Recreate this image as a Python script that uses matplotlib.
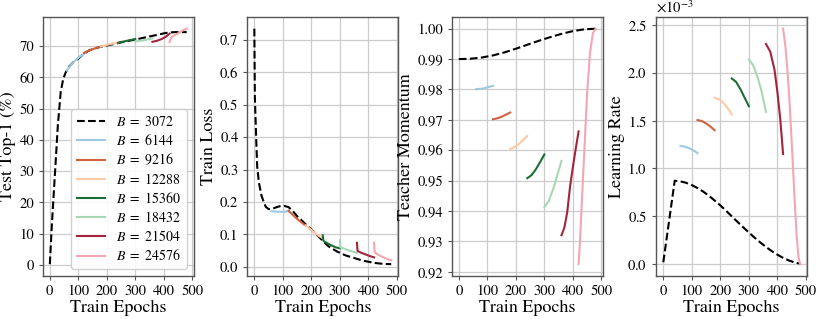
import numpy as np
import matplotlib
matplotlib.use("Agg")
import matplotlib.pyplot as plt
from matplotlib.ticker import ScalarFormatter

plt.rcParams["font.family"] = ["STIXGeneral", "DejaVu Serif"]
plt.rcParams["mathtext.fontset"] = "stix"

# batch sizes and colours
batch_sizes = [3072, 6144, 9216, 12288, 15360, 18432, 21504, 24576]
colors = ["k", "#9ecae1", "#d0623e", "#fdc9a6", "#1b6e35", "#a6d9b3", "#a3253d", "#f4a6b2"]

# ---- Test top-1 (%) ----
acc_epochs = [
    [1, 8, 15, 22, 29, 39, 48, 57, 70, 85, 100, 120, 140, 170, 200, 240, 270, 300, 340, 370, 400, 420, 440, 460, 480],
    [60, 75, 90, 105, 120],
    [120, 135, 150, 165, 180],
    [180, 195, 210, 225, 240],
    [240, 255, 270, 285, 300],
    [300, 315, 330, 345, 360],
    [360, 375, 390, 405, 420],
    [420, 425, 435, 450, 465, 480],
]
acc_values = [
    [0.2, 12.6, 23.3, 33.9, 44.6, 55.3, 59.6, 61.7, 63.6, 65.0, 66.0, 67.6, 68.7, 69.6, 70.2, 71.0, 71.6, 72.1, 72.9, 73.5, 74.1, 74.4, 74.5, 74.5, 74.5],
    [62.2, 64.0, 65.4, 66.6, 67.5],
    [67.8, 68.5, 69.0, 69.5, 69.9],
    [69.9, 70.3, 70.6, 70.9, 71.2],
    [71.1, 71.4, 71.7, 72.0, 72.3],
    [71.5, 71.7, 71.9, 72.2, 72.5],
    [71.4, 71.7, 72.2, 72.9, 74.0],
    [71.3, 72.6, 73.4, 74.1, 75.0, 75.6],
]

# ---- Train loss ----
loss_epochs = [
    [0, 1, 2, 6, 10, 16, 25, 31, 40, 50, 60, 75, 90, 105, 120, 135, 150, 165, 180, 200, 220, 240, 260, 290, 320, 350, 380, 420, 450, 480],
    [60, 75, 90, 105, 120],
    [120, 135, 150, 165, 180],
    [180, 195, 210, 225, 240],
    [240, 242, 255, 270, 285, 300],
    [300, 302, 315, 330, 345, 360],
    [360, 362, 375, 390, 405, 420],
    [420, 422, 435, 450, 465, 480],
]
loss_values = [
    [0.735, 0.62, 0.52, 0.41, 0.31, 0.26, 0.22, 0.205, 0.185, 0.178, 0.178, 0.183, 0.187, 0.188, 0.184, 0.172, 0.156, 0.144, 0.131, 0.115, 0.098, 0.080, 0.063, 0.047, 0.035, 0.027, 0.019, 0.012, 0.009, 0.008],
    [0.172, 0.170, 0.170, 0.170, 0.171],
    [0.173, 0.160, 0.148, 0.137, 0.127],
    [0.127, 0.117, 0.106, 0.096, 0.088],
    [0.097, 0.080, 0.073, 0.066, 0.060, 0.057],
    [0.082, 0.060, 0.056, 0.051, 0.047, 0.043],
    [0.074, 0.049, 0.043, 0.038, 0.033, 0.029],
    [0.074, 0.044, 0.037, 0.030, 0.024, 0.020],
]

# ---- Teacher momentum ----
mom_epochs = [
    [0, 40, 80, 120, 160, 200, 240, 280, 320, 360, 400, 440, 480],
    [60, 75, 90, 105, 120],
    [120, 135, 150, 165, 180],
    [180, 195, 210, 225, 240],
    [240, 255, 270, 285, 300],
    [300, 315, 330, 345, 360],
    [360, 370, 380, 390, 400, 410, 420],
    [420, 425, 430, 440, 450, 460, 470, 480],
]
mom_values = [
    [0.9900, 0.9901, 0.9905, 0.9912, 0.9922, 0.9934, 0.9947, 0.9960, 0.9972, 0.9983, 0.9992, 0.9998, 1.0000],
    [0.9801, 0.9802, 0.9804, 0.9808, 0.9812],
    [0.9702, 0.9705, 0.9710, 0.9717, 0.9724],
    [0.9604, 0.9610, 0.9620, 0.9633, 0.9647],
    [0.9508, 0.9518, 0.9537, 0.9561, 0.9586],
    [0.9413, 0.9432, 0.9470, 0.9516, 0.9565],
    [0.9320, 0.9345, 0.9395, 0.9480, 0.9545, 0.9605, 0.9662],
    [0.9225, 0.9300, 0.9405, 0.9595, 0.9790, 0.9920, 0.9985, 1.0000],
]

# ---- Learning rate (x 1e-3) ----
lr_epochs = [
    [0, 40, 60, 80, 100, 120, 140, 160, 180, 200, 220, 240, 260, 280, 300, 320, 340, 360, 380, 400, 420, 440, 460, 480],
    [60, 75, 90, 105, 120],
    [120, 135, 150, 165, 180],
    [180, 195, 210, 225, 240],
    [240, 255, 270, 285, 300],
    [300, 315, 330, 345, 360],
    [360, 375, 390, 400, 410, 420],
    [420, 428, 436, 444, 452, 460, 468, 474, 480],
]
lr_values = [
    [0.02, 0.872, 0.865, 0.850, 0.826, 0.795, 0.758, 0.714, 0.665, 0.614, 0.558, 0.500, 0.442, 0.386, 0.331, 0.277, 0.227, 0.180, 0.137, 0.099, 0.066, 0.039, 0.018, 0.005],
    [1.236, 1.228, 1.212, 1.190, 1.160],
    [1.506, 1.495, 1.470, 1.438, 1.399],
    [1.739, 1.722, 1.687, 1.633, 1.565],
    [1.940, 1.905, 1.830, 1.740, 1.650],
    [2.137, 2.080, 1.960, 1.800, 1.590],
    [2.300, 2.220, 2.030, 1.800, 1.520, 1.150],
    [2.460, 2.280, 2.000, 1.620, 1.180, 0.700, 0.280, 0.070, 0.000],
]

panels = [
    (acc_epochs, acc_values, "Test Top-1 (%)", 1.0),
    (loss_epochs, loss_values, "Train Loss", 1.0),
    (mom_epochs, mom_values, "Teacher Momentum", 1.0),
    (lr_epochs, lr_values, "Learning Rate", 1e-3),
]

fig, axes = plt.subplots(1, 4, figsize=(8.22, 3.19), dpi=100)
fig.subplots_adjust(left=0.0523, right=0.9818, bottom=0.135, top=0.947, wspace=0.358)

for ax, (xs, ys, ylabel, scale) in zip(axes, panels):
    for i, (x, y) in enumerate(zip(xs, ys)):
        ls = "--" if i == 0 else "-"
        ax.plot(x, np.array(y) * scale, ls, color=colors[i], linewidth=1.5,
                label=rf"$B\ =\ {batch_sizes[i]}$", zorder=2 if i == 0 else 3)
    ax.grid(True, color="#cccccc", linewidth=0.9)
    ax.set_axisbelow(True)
    for s in ax.spines.values():
        s.set_color("#555555")
        s.set_linewidth(1.0)
    ax.tick_params(labelsize=10.5, color="#555555", length=3)
    ax.set_xlabel("Train Epochs", fontsize=13, labelpad=1)
    ax.set_ylabel(ylabel, fontsize=13, labelpad=2)
    ax.set_xticks([0, 100, 200, 300, 400, 500])

axes[0].set_yticks(range(0, 80, 10))
axes[1].set_yticks([0.0, 0.1, 0.2, 0.3, 0.4, 0.5, 0.6, 0.7])
axes[2].set_yticks([0.92, 0.93, 0.94, 0.95, 0.96, 0.97, 0.98, 0.99, 1.00])
fmt = ScalarFormatter(useMathText=True)
fmt.set_powerlimits((-2, 2))
axes[3].yaxis.set_major_formatter(fmt)
axes[3].yaxis.get_offset_text().set_fontsize(10.5)

axes[0].legend(loc="lower right", fontsize=10, framealpha=0.9, edgecolor="#cccccc",
               handlelength=2.0, labelspacing=0.3, borderpad=0.4)

fig.savefig("out.png", dpi=100)
